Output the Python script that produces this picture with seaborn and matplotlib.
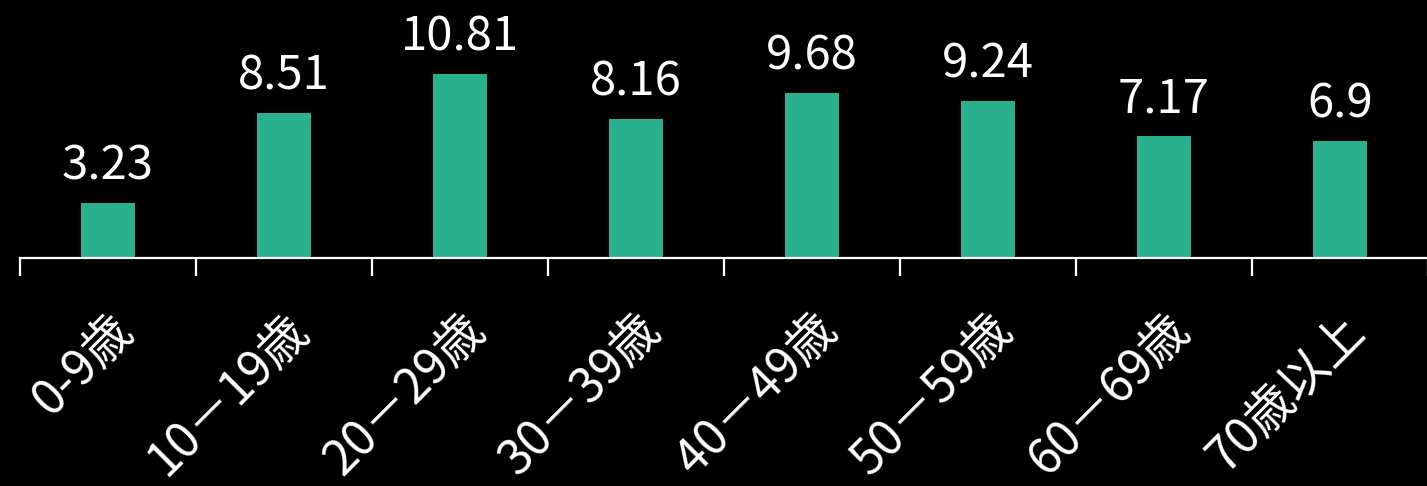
import numpy as np
import pandas as pd
import seaborn as sns
import matplotlib.pyplot as plt
from matplotlib.ticker import FixedLocator

# age groups and values
age_groups = ["0-9歳", "10－19歳", "20－29歳", "30－39歳", "40－49歳", "50－59歳", "60－69歳", "70歳以上"]
values = [3.23, 8.51, 10.81, 8.16, 9.68, 9.24, 7.17, 6.9]
value_text = ["3.23", "8.51", "10.81", "8.16", "9.68", "9.24", "7.17", "6.9"]

sns.set_style("dark")
plt.rcParams['font.family'] = ['Noto Sans CJK JP', 'DejaVu Sans']

df = pd.DataFrame({"age": age_groups, "value": values})

fig = plt.figure(figsize=(14.27, 4.86), dpi=100, facecolor="black")
ax = fig.add_axes([20 / 1427, 228 / 486, 1408 / 1427, 258 / 486])
ax.set_facecolor("black")

sns.barplot(data=df, x="age", y="value", color="#2BB08F", saturation=1, width=0.31,
            linewidth=0, ax=ax)

ax.bar_label(ax.containers[0], labels=value_text, padding=9, color="white", fontsize=34)

ax.set_ylim(0, 15.16)
ax.set_xlim(-0.5, 7.5)
ax.set_xlabel("")
ax.set_ylabel("")
ax.set_yticks([])
ax.grid(False)

for side in ["left", "right", "top"]:
    ax.spines[side].set_visible(False)
ax.spines["bottom"].set_color("white")
ax.spines["bottom"].set_linewidth(1.6)

# ticks at category boundaries only
ax.xaxis.set_minor_locator(FixedLocator(np.arange(-0.5, 8, 1)))
ax.tick_params(axis="x", which="major", bottom=True, length=0, pad=34, colors="white", labelsize=35)
ax.tick_params(axis="x", which="minor", bottom=True, length=13, width=1.6, color="white", direction="out")

for item in ax.get_xticklabels():
    item.set_rotation(45)
    item.set_ha("right")
    item.set_rotation_mode("anchor")

fig.savefig("out.png", facecolor="black")
